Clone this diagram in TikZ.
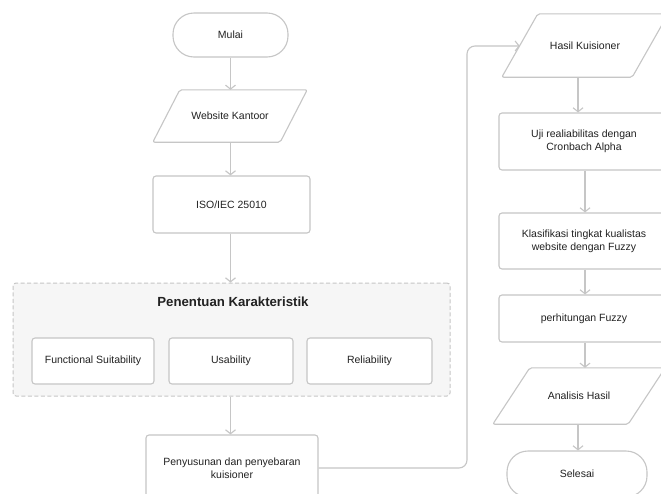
\documentclass[tikz,border=0pt]{standalone}
\usepackage{fontspec}
\setmainfont{Liberation Sans}
\usetikzlibrary{arrows.meta}
\definecolor{lineg}{HTML}{C6C6C6}
\definecolor{txt}{HTML}{222222}
\definecolor{grpfill}{HTML}{F6F6F6}
\tikzset{
  base/.style={text=txt, font=\fontsize{10.5}{13}\selectfont, align=center, inner sep=0pt},
  procbox/.style={base, draw=lineg, line width=1.1pt, rounded corners=3pt, fill=white},
  termbox/.style={base, draw=lineg, line width=1.1pt, rounded corners=21pt, fill=white},
  iobox/.style={base},
  grpbox/.style={draw=lineg, line width=1pt, dashed, dash pattern=on 4pt off 2.5pt, fill=grpfill, rounded corners=3pt, inner sep=0pt},
  flow/.style={draw=lineg, line width=1.1pt, -{Straight Barb[length=4pt,width=10pt]}},
  paraline/.style={draw=lineg, line width=1.1pt, rounded corners=2pt, fill=white}
}
\newcommand\drawpara[2]{\path[paraline] ([xshift=#2]#1.north west) -- ([xshift=#2]#1.north east) -- ([xshift=-#2]#1.south east) -- ([xshift=-#2]#1.south west) -- cycle;}
\begin{document}
\begin{tikzpicture}[x=1pt,y=-1pt]
\clip (0,0) rectangle (661,493);
\fill[white] (0,0) rectangle (661,493);
% left column
\node[termbox, minimum width=115pt, minimum height=44pt] (mulai) at (230.5,35) {Mulai};
\node[iobox, minimum width=127pt, minimum height=52pt] (web) at (230,116) {};
\drawpara{web}{13.5pt}
\node[base] at (web) {Website Kantoor};
\node[procbox, minimum width=157pt, minimum height=57pt] (iso) at (231.5,204.5) {ISO/IEC 25010};
\node[grpbox, minimum width=437pt, minimum height=113pt] (grp) at (231.5,339.5) {};
\node[base, font=\fontsize{13.2}{15}\selectfont\bfseries] (title) at (233,302) {Penentuan Karakteristik};
\node[procbox, minimum width=122pt, minimum height=46pt] (fs) at (93,361) {Functional Suitability};
\node[procbox, minimum width=124pt, minimum height=46pt] (us) at (231,361) {Usability};
\node[procbox, minimum width=125pt, minimum height=46pt] (rel) at (369.5,361) {Reliability};
\node[procbox, minimum width=172pt, minimum height=66pt] (peny) at (232,468) {Penyusunan dan penyebaran\\kuisioner};
% right column
\node[iobox, minimum width=130pt, minimum height=63pt] (hasil) at (585,45.5) {};
\drawpara{hasil}{18pt}
\node[base] at (hasil) {Hasil Kuisioner};
\node[procbox, minimum width=170pt, minimum height=57pt] (uji) at (584,141.5) {Uji realiabilitas dengan\\Cronbach Alpha};
\node[procbox, minimum width=170pt, minimum height=56pt] (klas) at (584,241) {Klasifikasi tingkat kualistas\\website dengan Fuzzy};
\node[procbox, minimum width=170pt, minimum height=47pt] (perh) at (584,318.5) {perhitungan Fuzzy};
\node[iobox, minimum width=135pt, minimum height=56pt] (anal) at (579,396) {};
\drawpara{anal}{18.5pt}
\node[base] at (anal) {Analisis Hasil};
\node[termbox, minimum width=140pt, minimum height=46pt] (sel) at (577,474) {Selesai};
% connectors
\draw[flow] (mulai.south) -- (mulai.south |- web.north);
\draw[flow] (web.south -| mulai.south) -- (iso.north -| mulai.south);
\draw[flow] (iso.south -| mulai.south) -- (grp.north -| mulai.south);
\draw[flow] (grp.south -| mulai.south) -- (peny.north -| mulai.south);
\coordinate (c1) at (467,468);
\coordinate (c2) at (467,46);
\draw[flow, rounded corners=8pt] (peny.east |- c1) -- (c1) -- (c2) -- (hasil.west |- c2);
\coordinate (rx1) at (578,0);
\coordinate (rx2) at (585,0);
\draw[flow] (hasil.south -| rx1) -- (uji.north -| rx1);
\draw[flow] (uji.south -| rx2) -- (klas.north -| rx2);
\draw[flow] (klas.south -| rx2) -- (perh.north -| rx2);
\draw[flow] (perh.south -| rx2) -- (anal.north -| rx2);
\draw[flow] (anal.south -| rx1) -- (sel.north -| rx1);
\end{tikzpicture}
\end{document}
